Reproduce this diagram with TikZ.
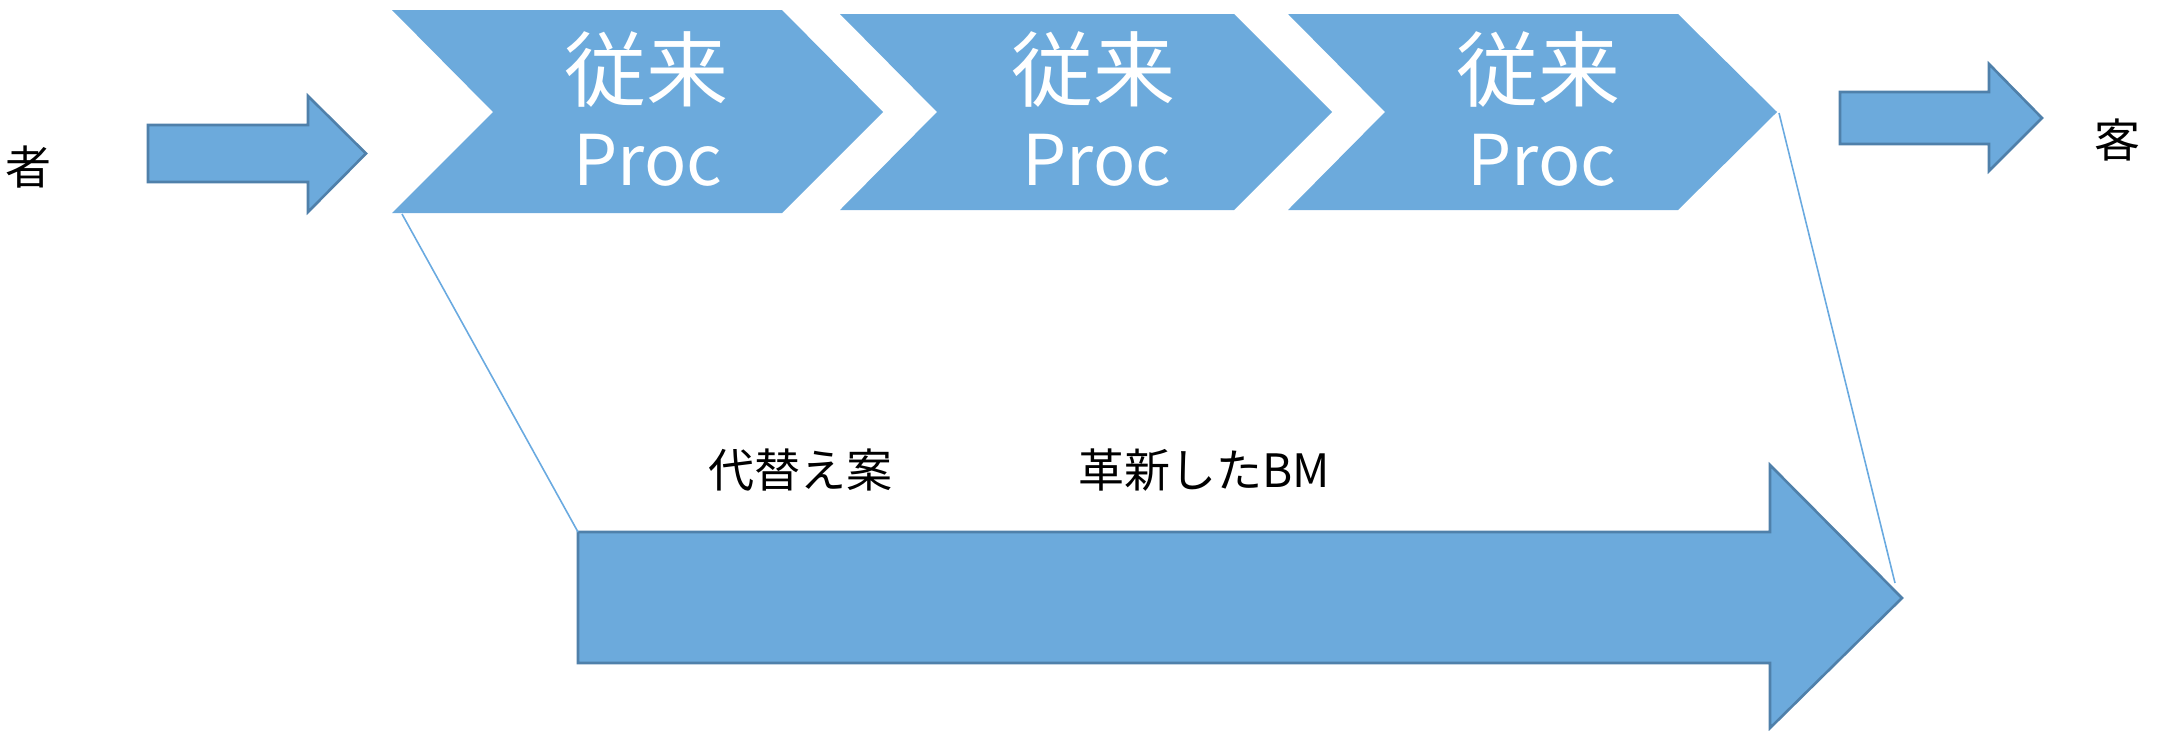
\documentclass[tikz,border=0pt]{standalone}
\usepackage{fontspec}
\setmainfont{Noto Sans CJK JP}
\definecolor{shapefill}{HTML}{6CAADC}
\definecolor{shapeline}{HTML}{4F80AA}
\definecolor{thinline}{HTML}{6AAAE0}
\tikzset{
  chev/.style={fill=shapefill, draw=none},
  bigarrow/.style={fill=shapefill, draw=shapeline, line width=1.3pt, line join=miter},
  zoomline/.style={draw=thinline, line width=0.8pt},
  kanji/.style={text=white, inner sep=0pt, anchor=base, font=\fontsize{41}{44}\selectfont},
  proc/.style={text=white, inner sep=0pt, anchor=base, font=\fontsize{35}{40}\selectfont},
  label/.style={text=black, inner sep=0pt, font=\fontsize{23}{25}\selectfont}
}
\begin{document}
\begin{tikzpicture}[x=0.5pt,y=-0.5pt]
\useasboundingbox (0,0) rectangle (2163,730);
% chevrons
\draw[chev] (392,10) -- (782,10) -- (883,112) -- (782,213) -- (392,213) -- (493,112) -- cycle;
\draw[chev] (840,14) -- (1234,14) -- (1332,112) -- (1234,210) -- (840,210) -- (937,112) -- cycle;
\draw[chev] (1288,14) -- (1678,14) -- (1777,112) -- (1678,210) -- (1288,210) -- (1385,112) -- cycle;
\node[kanji] (k1) at (646,100) {従来};
\node[proc] (p1) at (648,185) {Proc};
\node[kanji] (k2) at (1093,100) {従来};
\node[proc] (p2) at (1097,185) {Proc};
\node[kanji] (k3) at (1538,100) {従来};
\node[proc] (p3) at (1542,185) {Proc};
% left and right arrows
\draw[bigarrow] (148,125) -- (308,125) -- (308,96) -- (366,153.5) -- (308,212) -- (308,182) -- (148,182) -- cycle;
\draw[bigarrow] (1840,92) -- (1989,92) -- (1989,64) -- (2042,118) -- (1989,171) -- (1989,144) -- (1840,144) -- cycle;
% bottom arrow
\draw[bigarrow] (578,532) -- (1770,532) -- (1770,465) -- (1902,598) -- (1770,728) -- (1770,663) -- (578,663) -- cycle;
% named end points of the thin lines
\coordinate (c1) at (402,214);
\coordinate (b1) at (578,532);
\coordinate (c3) at (1779,113);
\coordinate (b3) at (1895,583);
\draw[zoomline] (c1) -- (b1);
\draw[zoomline] (c3) -- (b3);
% labels
\node[label] (sha) at (28,167) {者};
\node[label] (kyaku) at (2117,140) {客};
\node[label] (alt) at (800,470) {代替え案};
\node[label] (bm) at (1204,470) {革新したBM};
\end{tikzpicture}
\end{document}
